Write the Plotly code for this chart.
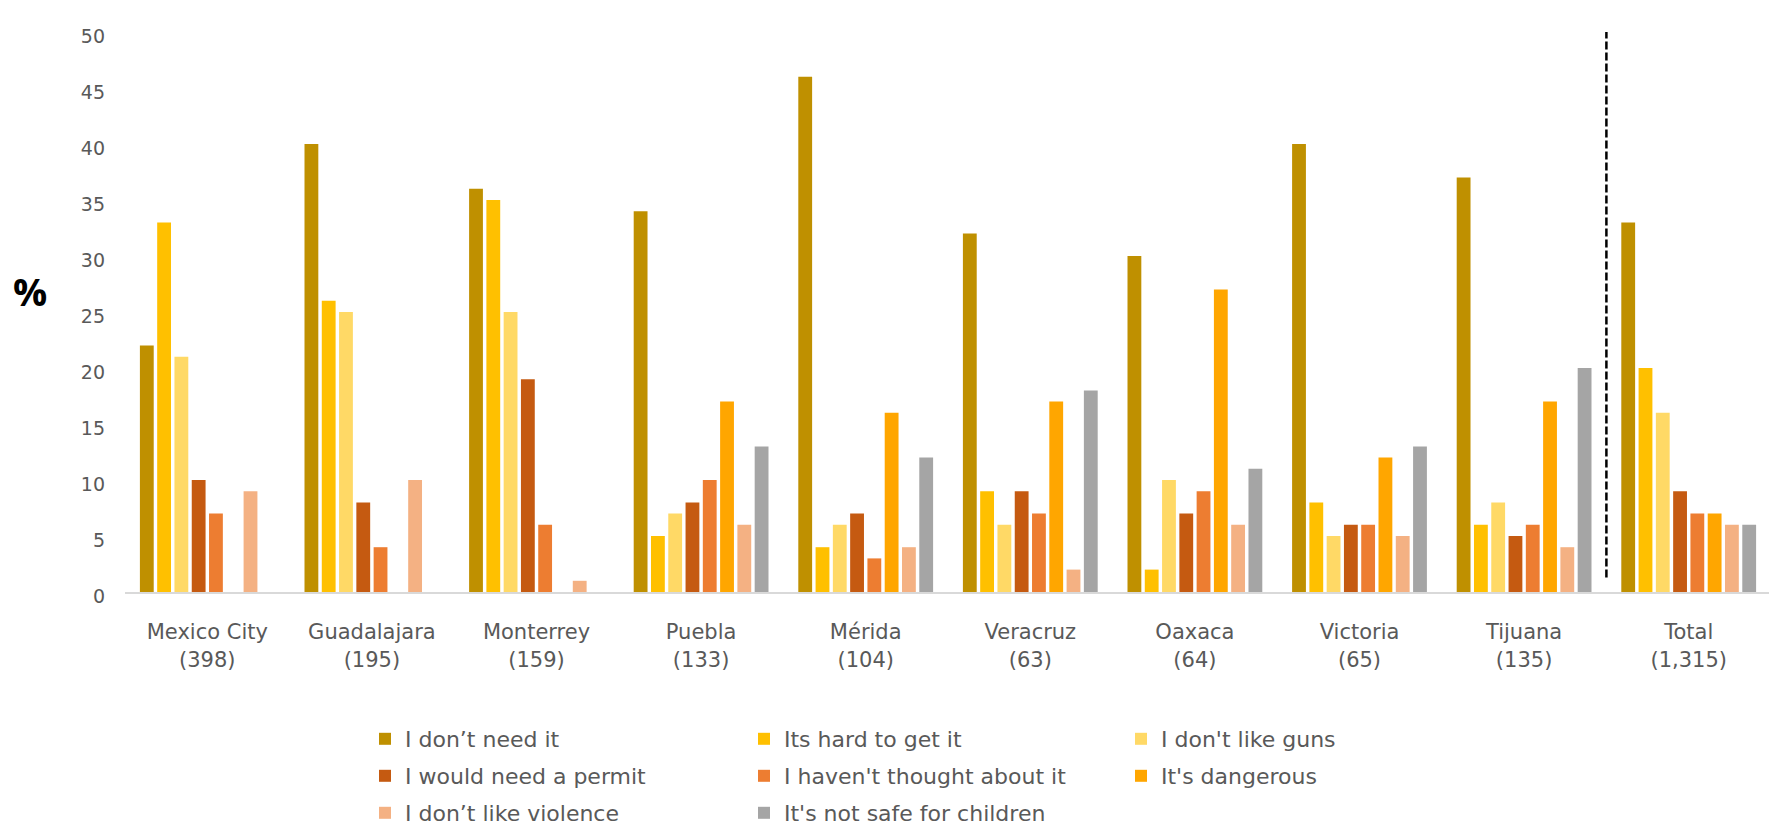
import plotly.graph_objects as go

# ---------------- data ----------------
categories = ["Mexico City<br>(398)", "Guadalajara<br>(195)", "Monterrey<br>(159)",
              "Puebla<br>(133)", "Mérida<br>(104)", "Veracruz<br>(63)",
              "Oaxaca<br>(64)", "Victoria<br>(65)", "Tijuana<br>(135)", "Total<br>(1,315)"]

series_names = ["I don’t need it", "Its hard to get it", "I don't like guns",
                "I would need a permit", "I haven't thought about it", "It's dangerous",
                "I don’t like violence", "It's not safe for children"]

dont_need = [22, 40, 36, 34, 46, 32, 30, 40, 37, 33]
hard_to_get = [33, 26, 35, 5, 4, 9, 2, 8, 6, 20]
dont_like_guns = [21, 25, 25, 7, 6, 6, 10, 5, 8, 16]
need_permit = [10, 8, 19, 8, 7, 9, 7, 6, 5, 9]
not_thought = [7, 4, 6, 10, 3, 7, 9, 6, 6, 7]
dangerous = [0, 0, 0, 17, 16, 17, 27, 12, 17, 7]
dont_like_violence = [9, 10, 1, 6, 4, 2, 6, 5, 4, 6]
not_safe_children = [0, 0, 0, 13, 12, 18, 11, 13, 20, 6]

series_values = [dont_need, hard_to_get, dont_like_guns, need_permit,
                 not_thought, dangerous, dont_like_violence, not_safe_children]

colors = ["#BF9000", "#FFC000", "#FFD966", "#C55A11",
          "#ED7D31", "#FFA600", "#F4B183", "#A5A5A5"]

y_ticks = [0, 5, 10, 15, 20, 25, 30, 35, 40, 45, 50]

# page body adds an 8px offset, so the figure is 8px smaller than the window
W, H = 1769, 818
m_l, m_r, m_t, m_b = 117, 6, 24, 234
plot_w = W - m_l - m_r
plot_h = H - m_t - m_b


def px_x(px):
    return (px - m_l) / plot_w


def px_y(py):
    return (H - m_b - py) / plot_h


# legend grid: 3 columns x 3 rows, one legend box per entry
legend_cols_px = [357, 736, 1113]
legend_rows_px = [731, 768, 805]
legend_font = dict(family="DejaVu Sans", size=22, color="#595959")

fig = go.Figure()
legend_layouts = {}
for i, (name, vals, col) in enumerate(zip(series_names, series_values, colors)):
    lid = "legend" if i == 0 else f"legend{i + 1}"
    fig.add_trace(go.Bar(
        x=categories, y=vals, name=name, legend=lid,
        marker=dict(color=col, line=dict(width=0)),
    ))
    r, c = divmod(i, 3)
    legend_layouts[lid] = dict(
        orientation="h", xanchor="left", yanchor="middle",
        xref="container", yref="container",
        x=legend_cols_px[c] / W, y=1 - legend_rows_px[r] / H,
        font=legend_font, itemwidth=30,
        bgcolor="rgba(0,0,0,0)", borderwidth=0,
    )

fig.update_layout(
    width=W, height=H,
    margin=dict(l=m_l, r=m_r, t=m_t, b=m_b, pad=0, autoexpand=False),
    paper_bgcolor="white", plot_bgcolor="white",
    barmode="group", bargap=0.16, bargroupgap=0.2,
    font=dict(family="DejaVu Sans", color="#595959"),
    showlegend=True,
    **legend_layouts,
    xaxis=dict(
        type="category", range=[-0.5, 9.5], automargin=False,
        showgrid=False, showline=True, linecolor="#D9D9D9", linewidth=2,
        ticks="", tickfont=dict(family="DejaVu Sans", size=21, color="#595959"),
        ticklabelstandoff=20, fixedrange=True,
    ),
    yaxis=dict(
        range=[0, 50], tickvals=y_ticks, showgrid=False, zeroline=False,
        showline=False, ticks="", automargin=False,
        tickfont=dict(family="DejaVu Sans", size=19, color="#595959"),
        ticklabelstandoff=19, ticklabelshift=4,
    ),
    shapes=[dict(
        type="line", xref="x", yref="y",
        x0=8.5, x1=8.5, y0=1.3, y1=52.1,
        line=dict(color="black", width=2.5, dash="8px,3px"),
    )],
    annotations=[dict(
        text="<b>%</b>", xref="paper", yref="paper",
        x=px_x(22), y=px_y(283),
        xanchor="center", yanchor="middle", showarrow=False,
        font=dict(family="Open Sans", size=38, color="black"),
    )],
)

fig.write_html("out.html")
